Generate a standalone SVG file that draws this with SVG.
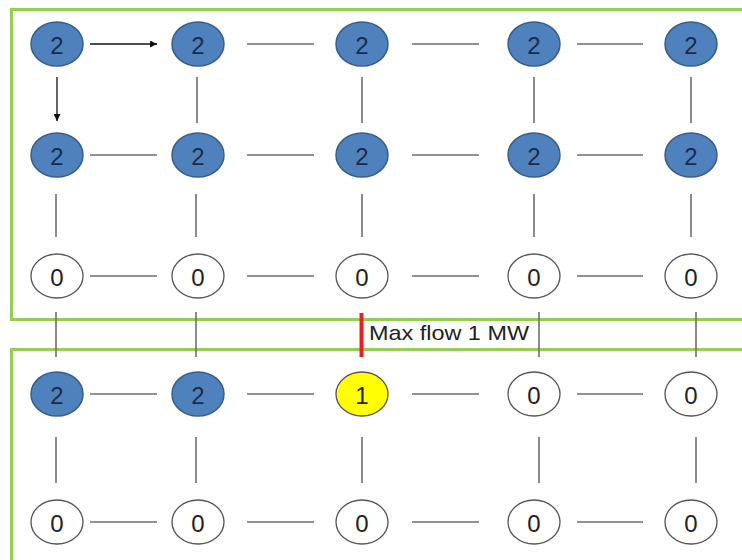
<svg xmlns="http://www.w3.org/2000/svg" width="742" height="560" viewBox="0 0 742 560">
<style>
.zone{fill:none;stroke:#92d050;stroke-width:3}
.e{stroke:#6e6e6e;stroke-width:1.6;fill:none}
.a{stroke:#111;stroke-width:1.3;fill:none;marker-end:url(#ah)}
.blue ellipse{fill:#4f81bd;stroke:#385d8a;stroke-width:1.5}
.white ellipse{fill:#fff;stroke:#555;stroke-width:1.3}
.yellow ellipse{fill:#ffff00;stroke:#555;stroke-width:1.3}
text.n{font-family:"Liberation Sans",Arial,sans-serif;font-size:24px;text-anchor:middle;dominant-baseline:central}
.blue text{fill:#1c2b4a}
.white text,.yellow text{fill:#222}
</style>
<defs>
<marker id="ah" viewBox="0 0 10 10" refX="10" refY="5" markerWidth="7" markerHeight="7" markerUnits="userSpaceOnUse" orient="auto">
<path d="M0,0 L10,5 L0,10 z" fill="#111"/>
</marker>
</defs>
<rect class="zone" x="11.5" y="9.5" width="740" height="310"/>
<rect class="zone" x="11.5" y="349.5" width="740" height="220"/>
<g id="connectors">
<line class="a" x1="90" y1="44" x2="157" y2="44"/>
<line class="e" x1="247" y1="44" x2="314" y2="44"/>
<line class="e" x1="412" y1="44" x2="479" y2="44"/>
<line class="e" x1="577" y1="44" x2="643" y2="44"/>
<line class="a" x1="57" y1="77" x2="57" y2="121"/>
<line class="e" x1="197" y1="77" x2="197" y2="123"/>
<line class="e" x1="362" y1="77" x2="362" y2="123"/>
<line class="e" x1="534" y1="77" x2="534" y2="123"/>
<line class="e" x1="691" y1="77" x2="691" y2="123"/>
<line class="e" x1="90" y1="155" x2="157" y2="155"/>
<line class="e" x1="247" y1="155" x2="314" y2="155"/>
<line class="e" x1="412" y1="155" x2="479" y2="155"/>
<line class="e" x1="577" y1="155" x2="643" y2="155"/>
<line class="e" x1="56" y1="194" x2="56" y2="237"/>
<line class="e" x1="196" y1="194" x2="196" y2="237"/>
<line class="e" x1="362" y1="194" x2="362" y2="237"/>
<line class="e" x1="534" y1="194" x2="534" y2="237"/>
<line class="e" x1="691" y1="194" x2="691" y2="237"/>
<line class="e" x1="90" y1="276" x2="157" y2="276"/>
<line class="e" x1="247" y1="276" x2="314" y2="276"/>
<line class="e" x1="412" y1="276" x2="479" y2="276"/>
<line class="e" x1="577" y1="276" x2="643" y2="276"/>
<line class="e" x1="56" y1="312" x2="56" y2="357"/>
<line class="e" x1="196" y1="312" x2="196" y2="357"/>
<line class="e" x1="539" y1="312" x2="539" y2="357"/>
<line class="e" x1="696" y1="312" x2="696" y2="357"/>
<line class="e" x1="90" y1="394" x2="157" y2="394"/>
<line class="e" x1="247" y1="394" x2="314" y2="394"/>
<line class="e" x1="412" y1="394" x2="479" y2="394"/>
<line class="e" x1="577" y1="394" x2="643" y2="394"/>
<line class="e" x1="56" y1="437" x2="56" y2="483"/>
<line class="e" x1="196" y1="437" x2="196" y2="483"/>
<line class="e" x1="362" y1="437" x2="362" y2="483"/>
<line class="e" x1="539" y1="437" x2="539" y2="483"/>
<line class="e" x1="696" y1="437" x2="696" y2="483"/>
<line class="e" x1="90" y1="522" x2="157" y2="522"/>
<line class="e" x1="247" y1="522" x2="314" y2="522"/>
<line class="e" x1="412" y1="522" x2="479" y2="522"/>
<line class="e" x1="577" y1="522" x2="643" y2="522"/>
</g>
<g id="limit">
<line x1="361.5" y1="313" x2="361.5" y2="357" stroke="#e8201f" stroke-width="4"/>
<text x="369" y="340" font-family="'Liberation Sans',Arial,sans-serif" font-size="21" fill="#222" textLength="160" lengthAdjust="spacingAndGlyphs">Max flow 1 MW</text>
</g>
<g id="n11" class="blue"><ellipse cx="57" cy="44" rx="26" ry="22"/><text class="n" x="57" y="45">2</text></g>
<g id="n12" class="blue"><ellipse cx="198" cy="44" rx="26" ry="22"/><text class="n" x="198" y="45">2</text></g>
<g id="n13" class="blue"><ellipse cx="362" cy="44" rx="26" ry="22"/><text class="n" x="362" y="45">2</text></g>
<g id="n14" class="blue"><ellipse cx="534" cy="44" rx="26" ry="22"/><text class="n" x="534" y="45">2</text></g>
<g id="n15" class="blue"><ellipse cx="691" cy="44" rx="26" ry="22"/><text class="n" x="691" y="45">2</text></g>
<g id="n21" class="blue"><ellipse cx="57" cy="155" rx="26" ry="22"/><text class="n" x="57" y="156">2</text></g>
<g id="n22" class="blue"><ellipse cx="198" cy="155" rx="26" ry="22"/><text class="n" x="198" y="156">2</text></g>
<g id="n23" class="blue"><ellipse cx="362" cy="155" rx="26" ry="22"/><text class="n" x="362" y="156">2</text></g>
<g id="n24" class="blue"><ellipse cx="534" cy="155" rx="26" ry="22"/><text class="n" x="534" y="156">2</text></g>
<g id="n25" class="blue"><ellipse cx="691" cy="155" rx="26" ry="22"/><text class="n" x="691" y="156">2</text></g>
<g id="n31" class="white"><ellipse cx="57" cy="276" rx="26" ry="22"/><text class="n" x="57" y="277">0</text></g>
<g id="n32" class="white"><ellipse cx="198" cy="276" rx="26" ry="22"/><text class="n" x="198" y="277">0</text></g>
<g id="n33" class="white"><ellipse cx="362" cy="276" rx="26" ry="22"/><text class="n" x="362" y="277">0</text></g>
<g id="n34" class="white"><ellipse cx="534" cy="276" rx="26" ry="22"/><text class="n" x="534" y="277">0</text></g>
<g id="n35" class="white"><ellipse cx="691" cy="276" rx="26" ry="22"/><text class="n" x="691" y="277">0</text></g>
<g id="n41" class="blue"><ellipse cx="57" cy="394" rx="26" ry="22"/><text class="n" x="57" y="395">2</text></g>
<g id="n42" class="blue"><ellipse cx="198" cy="394" rx="26" ry="22"/><text class="n" x="198" y="395">2</text></g>
<g id="n43" class="yellow"><ellipse cx="362" cy="394" rx="26" ry="22"/><text class="n" x="362" y="395">1</text></g>
<g id="n44" class="white"><ellipse cx="534" cy="394" rx="26" ry="22"/><text class="n" x="534" y="395">0</text></g>
<g id="n45" class="white"><ellipse cx="691" cy="394" rx="26" ry="22"/><text class="n" x="691" y="395">0</text></g>
<g id="n51" class="white"><ellipse cx="57" cy="522" rx="26" ry="22"/><text class="n" x="57" y="523">0</text></g>
<g id="n52" class="white"><ellipse cx="198" cy="522" rx="26" ry="22"/><text class="n" x="198" y="523">0</text></g>
<g id="n53" class="white"><ellipse cx="362" cy="522" rx="26" ry="22"/><text class="n" x="362" y="523">0</text></g>
<g id="n54" class="white"><ellipse cx="534" cy="522" rx="26" ry="22"/><text class="n" x="534" y="523">0</text></g>
<g id="n55" class="white"><ellipse cx="691" cy="522" rx="26" ry="22"/><text class="n" x="691" y="523">0</text></g>
</svg>
